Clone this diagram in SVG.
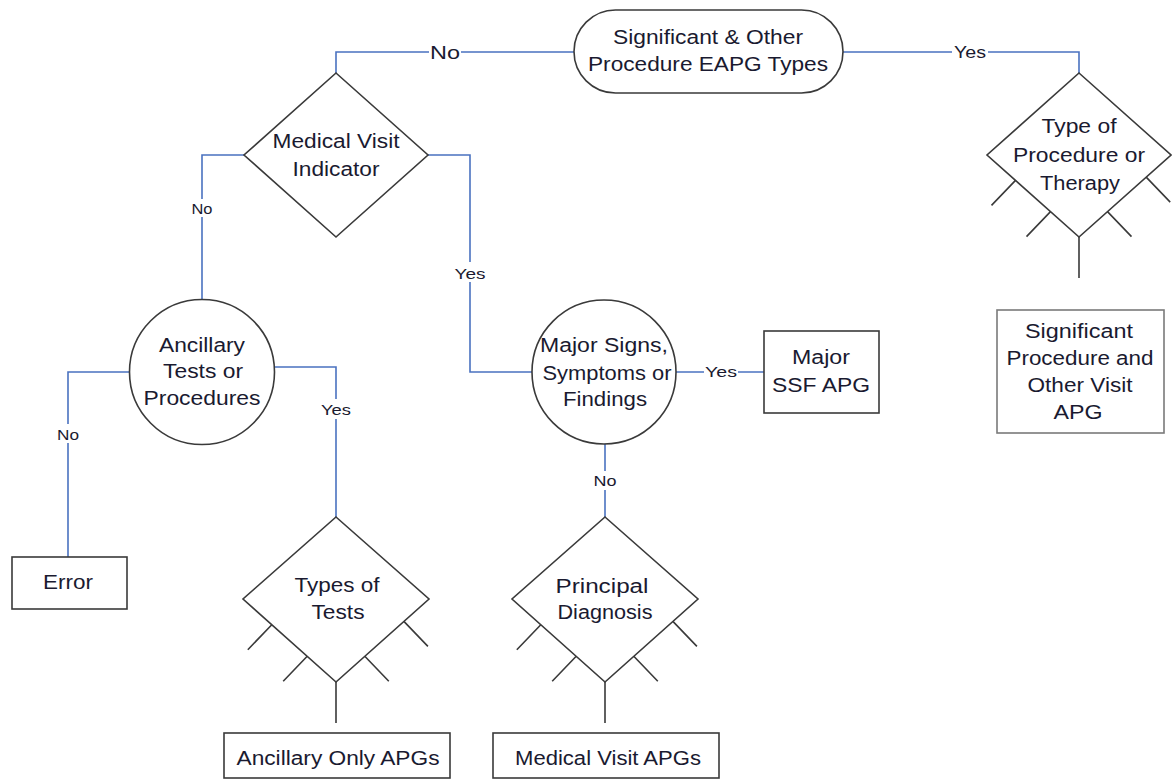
<svg xmlns="http://www.w3.org/2000/svg" width="1172" height="780" viewBox="0 0 1172 780">
<style>
.shape{fill:#fff;stroke:#3a3a3a;stroke-width:1.6}
.tick{stroke:#3a3a3a;stroke-width:1.6;fill:none}
.conn{fill:none;stroke:#4a72c0;stroke-width:1.6}
.t{font-family:"Liberation Sans",Arial,sans-serif;font-size:20px;fill:#1a1a30;text-anchor:middle}
.lbl{font-family:"Liberation Sans",Arial,sans-serif;font-size:15px;fill:#1a1a30;text-anchor:middle}
.bg{fill:#fff;stroke:none}
</style>
<rect width="1172" height="780" fill="#fff"/>

<g id="connectors">
  <path class="conn" d="M574,52 H336 V73"/>
  <path class="conn" d="M843,52 H1079 V73"/>
  <path class="conn" d="M244,155 H202 V300"/>
  <path class="conn" d="M428,155 H470 V372 H532"/>
  <path class="conn" d="M130,372 H68 V557"/>
  <path class="conn" d="M274,367 H336 V517"/>
  <path class="conn" d="M676,372 H764"/>
  <path class="conn" d="M605,444 V517"/>
  <rect class="bg" x="429" y="42" width="32" height="20"/>
  <text class="lbl" x="445" y="59" style="font-size:19px" textLength="30" lengthAdjust="spacingAndGlyphs">No</text>
  <rect class="bg" x="952" y="44" width="36" height="16"/>
  <text class="lbl" x="970" y="58" style="font-size:16px" textLength="32" lengthAdjust="spacingAndGlyphs">Yes</text>
  <rect class="bg" x="190" y="199" width="24" height="18"/>
  <text class="lbl" x="202" y="214" textLength="21" lengthAdjust="spacingAndGlyphs">No</text>
  <rect class="bg" x="453" y="262" width="34" height="20"/>
  <text class="lbl" x="470" y="279" textLength="31" lengthAdjust="spacingAndGlyphs">Yes</text>
  <rect class="bg" x="56" y="424" width="24" height="19"/>
  <text class="lbl" x="68" y="440" textLength="22" lengthAdjust="spacingAndGlyphs">No</text>
  <rect class="bg" x="319" y="399" width="34" height="20"/>
  <text class="lbl" x="336" y="415" textLength="30" lengthAdjust="spacingAndGlyphs">Yes</text>
  <rect class="bg" x="704" y="363" width="34" height="17"/>
  <text class="lbl" x="721" y="377" textLength="32" lengthAdjust="spacingAndGlyphs">Yes</text>
  <rect class="bg" x="592" y="471" width="26" height="19"/>
  <text class="lbl" x="605" y="486" textLength="23" lengthAdjust="spacingAndGlyphs">No</text>
</g>

<g id="node-start">
  <rect class="shape" x="574" y="10" width="269" height="83" rx="41.5" ry="41.5"/>
  <text class="t" x="708" y="44" textLength="190" lengthAdjust="spacingAndGlyphs">Significant &amp; Other</text>
  <text class="t" x="708" y="71" textLength="240" lengthAdjust="spacingAndGlyphs">Procedure EAPG Types</text>
</g>

<g id="node-medical-visit-indicator">
  <polygon class="shape" points="336,73 428,155 336,237 244,155"/>
  <text class="t" x="336" y="148" textLength="127" lengthAdjust="spacingAndGlyphs">Medical Visit</text>
  <text class="t" x="336" y="176" textLength="87" lengthAdjust="spacingAndGlyphs">Indicator</text>
</g>

<g id="node-type-of-procedure">
  <polygon class="shape" points="1079,73 1171,155 1079,237 987,155"/>
  <path class="tick" d="M1015.5,180.4 L991.5,205.4 M1050.5,211.6 L1026.5,236.6 M1146.2,177.1 L1170.2,202.1 M1107.5,211.6 L1131.5,236.6 M1079,237 V278"/>
  <text class="t" x="1079" y="133" textLength="75" lengthAdjust="spacingAndGlyphs">Type of</text>
  <text class="t" x="1079" y="162" textLength="132" lengthAdjust="spacingAndGlyphs">Procedure or</text>
  <text class="t" x="1080" y="190" textLength="80" lengthAdjust="spacingAndGlyphs">Therapy</text>
</g>

<g id="node-significant-procedure-apg">
  <rect class="shape" x="997" y="310" width="167" height="123" style="stroke:#7a7a7a"/>
  <text class="t" x="1079" y="338" textLength="108" lengthAdjust="spacingAndGlyphs">Significant</text>
  <text class="t" x="1080" y="365" textLength="147" lengthAdjust="spacingAndGlyphs">Procedure and</text>
  <text class="t" x="1080" y="392" textLength="105" lengthAdjust="spacingAndGlyphs">Other Visit</text>
  <text class="t" x="1078" y="419" textLength="49" lengthAdjust="spacingAndGlyphs">APG</text>
</g>

<g id="node-ancillary-tests">
  <circle class="shape" cx="202" cy="372" r="72.5"/>
  <text class="t" x="202" y="352" textLength="86" lengthAdjust="spacingAndGlyphs">Ancillary</text>
  <text class="t" x="203" y="378" textLength="80" lengthAdjust="spacingAndGlyphs">Tests or</text>
  <text class="t" x="202" y="405" textLength="117" lengthAdjust="spacingAndGlyphs">Procedures</text>
</g>

<g id="node-error">
  <rect class="shape" x="12" y="557" width="115" height="52"/>
  <text class="t" x="68" y="589" textLength="50" lengthAdjust="spacingAndGlyphs">Error</text>
</g>

<g id="node-types-of-tests">
  <polygon class="shape" points="336,517 429,599 336,682 243,599"/>
  <path class="tick" d="M271.8,624.7 L247.8,649.7 M307.2,656.3 L283.2,681.3 M403.9,621.4 L427.9,646.4 M364.8,656.3 L388.8,681.3 M336,682 V723"/>
  <text class="t" x="337" y="592" textLength="85" lengthAdjust="spacingAndGlyphs">Types of</text>
  <text class="t" x="338" y="619" textLength="53" lengthAdjust="spacingAndGlyphs">Tests</text>
</g>

<g id="node-ancillary-only-apgs">
  <rect class="shape" x="224" y="733" width="226" height="45"/>
  <text class="t" x="338" y="765" textLength="203" lengthAdjust="spacingAndGlyphs">Ancillary Only APGs</text>
</g>

<g id="node-major-signs">
  <circle class="shape" cx="604" cy="372" r="72"/>
  <text class="t" x="604" y="352" textLength="128" lengthAdjust="spacingAndGlyphs">Major Signs,</text>
  <text class="t" x="607" y="380" textLength="129" lengthAdjust="spacingAndGlyphs">Symptoms or</text>
  <text class="t" x="605" y="406" textLength="84" lengthAdjust="spacingAndGlyphs">Findings</text>
</g>

<g id="node-major-ssf-apg">
  <rect class="shape" x="764" y="331" width="115" height="82"/>
  <text class="t" x="821" y="364" textLength="58" lengthAdjust="spacingAndGlyphs">Major</text>
  <text class="t" x="821" y="392" textLength="98" lengthAdjust="spacingAndGlyphs">SSF APG</text>
</g>

<g id="node-principal-diagnosis">
  <polygon class="shape" points="605,517 698,599 605,682 512,599"/>
  <path class="tick" d="M540.8,624.7 L516.8,649.7 M576.2,656.3 L552.2,681.3 M672.9,621.4 L696.9,646.4 M633.8,656.3 L657.8,681.3 M605,682 V723"/>
  <text class="t" x="602" y="593" textLength="93" lengthAdjust="spacingAndGlyphs">Principal</text>
  <text class="t" x="605" y="619" textLength="95" lengthAdjust="spacingAndGlyphs">Diagnosis</text>
</g>

<g id="node-medical-visit-apgs">
  <rect class="shape" x="493" y="733" width="226" height="45"/>
  <text class="t" x="608" y="765" textLength="186" lengthAdjust="spacingAndGlyphs">Medical Visit APGs</text>
</g>
</svg>
